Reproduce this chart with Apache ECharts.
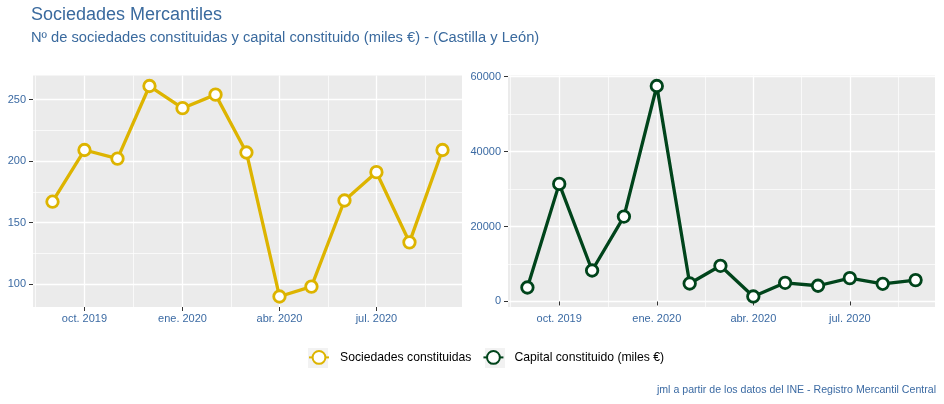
<!DOCTYPE html>
<html>
<head>
<meta charset="utf-8">
<script src="https://cdn.jsdelivr.net/npm/echarts@6/dist/echarts.min.js"></script>
<style>
  html, body { margin: 0; padding: 0; background: #fff; }
  #chart { width: 944px; height: 404px; }
</style>
</head>
<body>
<div id="chart"></div>
<script>
// ---- Data ----
const months = ['2019-09-01','2019-10-01','2019-11-01','2019-12-01','2020-01-01','2020-02-01','2020-03-01',
                '2020-04-01','2020-05-01','2020-06-01','2020-07-01','2020-08-01','2020-09-01'];
const sociedades = [167, 209, 202, 261, 243, 254, 207, 90, 98, 168, 191, 134, 209];
const capital = [3730, 31390, 8270, 22670, 57520, 4800, 9520, 1330, 4980, 4190, 6230, 4720, 5700];

const seriesNames = ['Sociedades constituidas', 'Capital constituido (miles €)'];
const xMajorBreaks = ['2019-10-01','2020-01-01','2020-04-01','2020-07-01'];
const xMajorLabels = ['oct. 2019','ene. 2020','abr. 2020','jul. 2020'];
const xMinorBreaks = ['2019-08-16T00:00Z','2019-11-16T00:00Z','2020-02-15T12:00Z','2020-05-16T12:00Z','2020-08-16T00:00Z'];
const yLeftMajor = [100, 150, 200, 250];
const yLeftMinor = [125, 175, 225];
const yRightMajor = [0, 20000, 40000, 60000];
const yRightMinor = [10000, 30000, 50000];

const titleText = 'Sociedades Mercantiles';
const subtitleText = 'Nº de sociedades constituidas y capital constituido (miles €) - (Castilla y León)';
const captionText = 'jml a partir de los datos del INE - Registro Mercantil Central';

// ---- Helpers ----
const ts = s => Date.parse(s.length === 10 ? s + 'T00:00:00Z' : s);
const monthTs = months.map(ts);
const majorTs = xMajorBreaks.map(ts);
const minorTs = xMinorBreaks.map(ts);
function expand(arr) {
  const mn = Math.min(...arr), mx = Math.max(...arr), p = (mx - mn) * 0.05;
  return [mn - p, mx + p];
}
const xr = expand(monthTs);
const yl = expand(sociedades);
const yr = expand(capital);

const FONT = '"Liberation Sans", Arial, sans-serif';
const BLUE = '#3a6a9e';
const TXT_BLUE = '#3b6aa3';
const YELLOW = '#DDB400';
const GREEN = '#00441B';

const grids = [
  { left: 33, top: 75.5, width: 429, height: 231.5, show: true, backgroundColor: '#EBEBEB', borderWidth: 0 },
  { left: 508, top: 75.5, width: 427, height: 231.5, show: true, backgroundColor: '#EBEBEB', borderWidth: 0 }
];

function majorX(g) {
  return {
    type: 'value', gridIndex: g, min: xr[0], max: xr[1], position: 'bottom',
    axisLine: { show: false },
    axisTick: { show: true, length: 4, lineStyle: { color: '#333', width: 1 }, customValues: majorTs },
    axisLabel: {
      customValues: majorTs, color: TXT_BLUE, fontSize: 11, fontFamily: FONT, margin: 6,
      formatter: v => {
        let best = 0, bd = Infinity;
        majorTs.forEach((t, i) => { const d = Math.abs(t - v); if (d < bd) { bd = d; best = i; } });
        return xMajorLabels[best];
      }
    },
    splitLine: { show: true, lineStyle: { color: '#fff', width: 1.3 } }
  };
}
function minorX(g) {
  return {
    type: 'value', gridIndex: g, min: xr[0], max: xr[1], position: 'bottom',
    axisLine: { show: false },
    axisTick: { show: false, customValues: minorTs },
    axisLabel: { show: false, customValues: minorTs },
    splitLine: { show: true, lineStyle: { color: '#fff', width: 0.7 } }
  };
}
function majorY(g, range, vals) {
  return {
    type: 'value', gridIndex: g, min: range[0], max: range[1], position: 'left',
    axisLine: { show: false },
    axisTick: { show: true, length: 4, lineStyle: { color: '#333', width: 1 }, customValues: vals },
    axisLabel: { customValues: vals, color: TXT_BLUE, fontSize: 11, fontFamily: FONT, margin: 7,
                 formatter: v => String(Math.round(v)) },
    splitLine: { show: true, lineStyle: { color: '#fff', width: 1.3 } }
  };
}
function minorY(g, range, vals) {
  return {
    type: 'value', gridIndex: g, min: range[0], max: range[1], position: 'left',
    axisLine: { show: false },
    axisTick: { show: false, customValues: vals },
    axisLabel: { show: false, customValues: vals },
    splitLine: { show: true, lineStyle: { color: '#fff', width: 0.7 } }
  };
}

function lineSeries(name, color, data, idx) {
  return {
    name: name, type: 'line', xAxisIndex: idx, yAxisIndex: idx,
    data: data.map((v, i) => [monthTs[i], v]),
    symbol: 'circle', symbolSize: 11.5, showAllSymbol: true,
    lineStyle: { color: color, width: 3.3 },
    itemStyle: { color: '#fff', borderColor: color, borderWidth: 2.8 },
    emphasis: { disabled: true },
    animation: false, z: 5
  };
}

const option = {
  animation: false,
  backgroundColor: '#fff',
  textStyle: { fontFamily: FONT },
  title: [
    { text: titleText, left: 31, top: 5, padding: 0,
      textStyle: { fontSize: 18, fontWeight: 'normal', color: BLUE, fontFamily: FONT, lineHeight: 20 } },
    { text: subtitleText, left: 31, top: 29, padding: 0,
      textStyle: { fontSize: 14.7, fontWeight: 'normal', color: BLUE, fontFamily: FONT, lineHeight: 18 } },
    { text: captionText, right: 8, top: 383, padding: 0,
      textStyle: { fontSize: 10.6, fontWeight: 'normal', color: TXT_BLUE, fontFamily: FONT, lineHeight: 14 } }
  ],
  grid: grids,
  // indices: 0 = left major, 1 = right major, 2 = left minor, 3 = right minor
  xAxis: [majorX(0), majorX(1), minorX(0), minorX(1)],
  yAxis: [majorY(0, yl, yLeftMajor), majorY(1, yr, yRightMajor), minorY(0, yl, yLeftMinor), minorY(1, yr, yRightMinor)],
  legend: {
    data: seriesNames, left: 308, top: 350, padding: 0,
    itemWidth: 20, itemHeight: 16, itemGap: 11,
    textStyle: { fontSize: 12.2, color: '#000', fontFamily: FONT, padding: [0, 0, 0, 6] },
    selectedMode: false
  },
  graphic: [
    { type: 'rect', left: 308, top: 348, shape: { width: 20, height: 20 }, style: { fill: '#F2F2F2' }, z: -1, silent: true },
    { type: 'rect', left: 485, top: 348, shape: { width: 20, height: 20 }, style: { fill: '#F2F2F2' }, z: -1, silent: true }
  ],
  series: [
    lineSeries(seriesNames[0], YELLOW, sociedades, 0),
    lineSeries(seriesNames[1], GREEN, capital, 1)
  ]
};

const chart = echarts.init(document.getElementById('chart'), null, { renderer: 'canvas' });
chart.setOption(option);
</script>
</body>
</html>
